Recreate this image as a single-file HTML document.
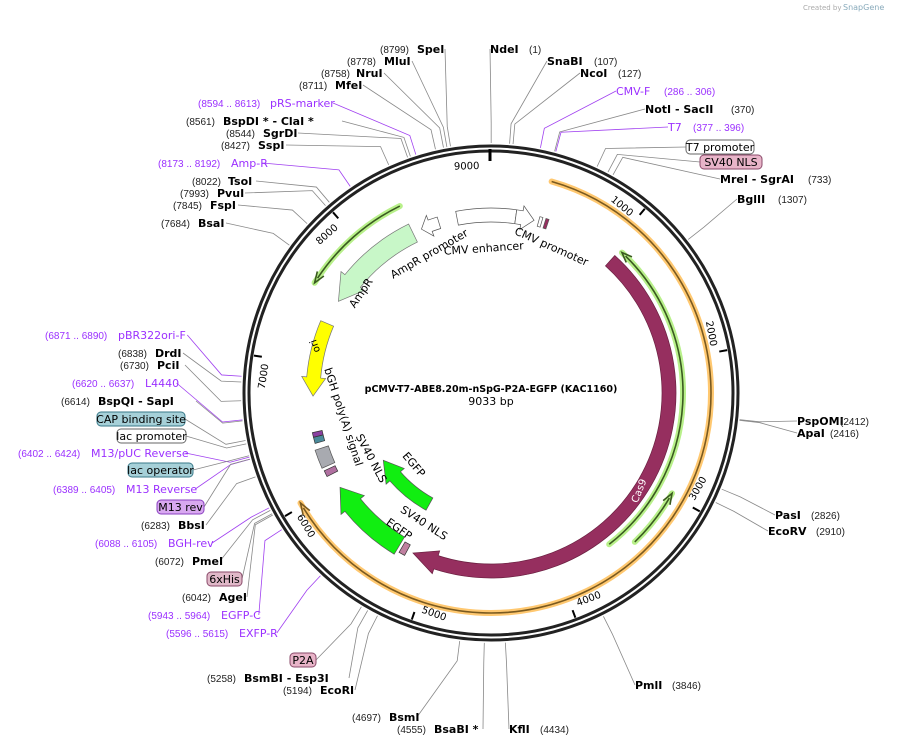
<!DOCTYPE html>
<html><head><meta charset="utf-8"><style>
body{margin:0;background:#fff;}
svg{display:block;font-family:"DejaVu Sans","Liberation Sans",sans-serif;}
.n{font-size:10px;fill:#222;font-family:"Liberation Sans",sans-serif}
.b{font-size:11px;font-weight:bold;fill:#000}
.p{font-size:10px;fill:#9b30ff;font-family:"Liberation Sans",sans-serif}
.pb{font-size:11px;fill:#9b30ff}
</style></head><body>
<svg id="s" width="899" height="747" viewBox="0 0 899 747" xmlns="http://www.w3.org/2000/svg">
<text x="803" y="10" style="font-size:7px;fill:#aaa">Created by</text><text x="843" y="10" style="font-size:8px;fill:#8ab">SnapGene</text>
<g id="g"></g>
<text x="491" y="392" text-anchor="middle" style="font-size:9.5px;font-weight:bold">pCMV-T7-ABE8.20m-nSpG-P2A-EGFP (KAC1160)</text>
<text x="491" y="405" text-anchor="middle" style="font-size:11px">9033 bp</text>
</svg>
<script>
var CX=491,CY=393,N=9033,NS="http://www.w3.org/2000/svg",G=document.getElementById('g');
function P(a,r){var t=a*Math.PI/180;return[CX+r*Math.sin(t),CY-r*Math.cos(t)];}
function A(p){return p/N*360;}
function el(n,at,txt){var e=document.createElementNS(NS,n);for(var k in at)e.setAttribute(k,at[k]);if(txt!=null)e.textContent=txt;G.appendChild(e);return e;}
function arc(a1,a2,r){var s=P(a1,r),e=P(a2,r),l=Math.abs(a2-a1)>180?1:0,sw=a2>a1?1:0;return 'M'+s[0]+' '+s[1]+' A'+r+' '+r+' 0 '+l+' '+sw+' '+e[0]+' '+e[1];}
function barrow(a1,a2,r,w,hd,fill,stroke){var d=a2>a1?1:-1,ab=a2-d*hd,ro=r+w/2,ri=r-w/2,hw=w/2+5;
 var p1=P(a1,ro),p2=P(ab,ro),p3=P(ab,r+hw),p4=P(a2,r),p5=P(ab,r-hw),p6=P(ab,ri),p7=P(a1,ri);
 if(hd<0.1){p3=p2;p4=p2;p5=p6;}
 var l=Math.abs(ab-a1)>180?1:0,sw=d>0?1:0;
 var s='M'+p1+' A'+ro+' '+ro+' 0 '+l+' '+sw+' '+p2+' L'+p3+' L'+p4+' L'+p5+' L'+p6+' A'+ri+' '+ri+' 0 '+l+' '+(1-sw)+' '+p7+'Z';
 el('path',{d:s,fill:fill,stroke:stroke||'#555','stroke-width':0.7});}
function thin(a1,a2,r,col,glow){var d=a2>a1?1:-1;el('path',{d:arc(a1,a2,r),fill:'none',stroke:glow,'stroke-width':6,'stroke-linecap':'round'});
 el('path',{d:arc(a1,a2-d*1.5,r),fill:'none',stroke:col,'stroke-width':1.6});
 var t=P(a2,r),b1=P(a2-d*3,r+4),b2=P(a2-d*3,r-4);el('path',{d:'M'+b1+' L'+t+' L'+b2,fill:'none',stroke:col,'stroke-width':1.6});}
el('circle',{cx:CX,cy:CY,r:247,fill:'none',stroke:'#222','stroke-width':3});
el('circle',{cx:CX,cy:CY,r:242,fill:'none',stroke:'#222','stroke-width':3});
for(var k=1;k<=9;k++){var a=A(k*1000);
 if(k<9){var p=P(a,240),q=P(a,232);el('line',{x1:p[0],y1:p[1],x2:q[0],y2:q[1],stroke:'#000','stroke-width':2});}
 var t=P(a-4.8,228);var rot=a; if(a>90&&a<270)rot=a-180; if(a>=270)rot=a-360;
 el('text',{x:t[0],y:t[1],'text-anchor':'middle','dominant-baseline':'middle',transform:'rotate('+rot+' '+t[0]+' '+t[1]+')',style:'font-size:10px'},String(k*1000));}
el('line',{x1:490,y1:149,x2:490,y2:161,stroke:'#000','stroke-width':3});
thin(16,240,220,'#7a5a20','#ffc870');
thin(142,43,192,'#3a5a20','#b8f08a');
thin(136,119,207,'#3a5a20','#b8f08a');
thin(334,302,208,'#3a5a20','#b8f08a');
barrow(42,206,178,14,8,'#962f5f','#6a2040');
barrow(334,301,178,20,8,'#c8f7c8','#777');
barrow(343,337,178,12,3,'#fff','#555');
barrow(-11,8,178,14,0.01,'#fff','#555');
barrow(8,14,178,14,4,'#fff','#555');
barrow(15.5,16.5,178,10,0.01,'#fff','#555');
barrow(17.5,18.5,178,10,0.01,'#962f5f','#555');
barrow(293,269,178,14,6,'#ffff00','#777');
barrow(246,252,178,14,0.01,'#a8aab0','#555');
barrow(254,256,178,10,0.01,'#4a8a9a','#333');
barrow(256,257.5,178,10,0.01,'#8a40a0','#333');
barrow(243,245,178,12,0.01,'#b070a0','#333');
barrow(211,238,178,20,7,'#11ee11','#555');
barrow(208,210,178,12,0.01,'#c080a0','#333');
barrow(209,238,127,14,9,'#11ee11','#555');
function tl(x,y,r,s,st){el('text',{x:x,y:y,'text-anchor':'middle',transform:'rotate('+r+' '+x+' '+y+')',style:'font-size:11px;'+(st||'')},s);}
tl(550,250,24,'CMV promoter');tl(484,252,-4,'CMV enhancer');tl(431,257,-30,'AmpR promoter');tl(364,295,-56,'AmpR');
tl(318,345,-110,'ori','font-size:10px');tl(340,418,72,'bGH poly(A) signal');tl(368,460,62,'SV40 NLS');
tl(411,467,50,'EGFP');tl(422,526,33,'SV40 NLS');tl(397,532,35,'EGFP');tl(642,492,-68,'Cas9','fill:#fff;font-size:10px');
var L=[
['n',380,53,'(8799)'],['b',417,53,'SpeI',8799],['b',490,53,'NdeI',1],['n',529,53,'(1)'],
['n',347,65,'(8778)'],['b',384,65,'MluI',8778],['b',547,65,'SnaBI',107],['n',594,65,'(107)'],
['n',321,77,'(8758)'],['b',356,77,'NruI',8758],['b',580,77,'NcoI',127],['n',618,77,'(127)'],
['n',299,89,'(8711)'],['b',335,89,'MfeI',8711],['pb',616,95,'CMV-F',286],['p',664,95,'(286 .. 306)'],
['p',198,107,'(8594 .. 8613)'],['pb',270,107,'pRS-marker',8594],['b',645,113,'NotI  - SacII',370],['n',731,113,'(370)'],
['n',186,125,'(8561)'],['b',223,125,'BspDI *  - ClaI *',8561],['pb',668,131,'T7',377],['p',693,131,'(377 .. 396)'],
['n',226,137,'(8544)'],['b',263,137,'SgrDI',8544],['n',221,149,'(8427)'],['b',258,149,'SspI',8427],
['p',158,167,'(8173 .. 8192)'],['pb',231,167,'Amp-R',8173],['b',720,183,'MreI  - SgrAI',733],['n',808,183,'(733)'],
['n',192,185,'(8022)'],['b',228,185,'TsoI',8022],['n',180,197,'(7993)'],['b',217,197,'PvuI',7993],
['b',737,203,'BglII',1307],['n',778,203,'(1307)'],['n',173,209,'(7845)'],['b',210,209,'FspI',7845],
['n',161,227,'(7684)'],['b',198,227,'BsaI',7684],
['p',45,339,'(6871 .. 6890)'],['pb',118,339,'pBR322ori-F',6871],['n',118,357,'(6838)'],['b',155,357,'DrdI',6838],
['n',120,369,'(6730)'],['b',157,369,'PciI',6730],['p',72,387,'(6620 .. 6637)'],['pb',145,387,'L4440',6620],
['n',61,405,'(6614)'],['b',98,405,'BspQI   - SapI',6614],['p',18,457,'(6402 .. 6424)'],['pb',91,457,'M13/pUC Reverse',6402],
['p',53,493,'(6389 .. 6405)'],['pb',126,493,'M13 Reverse',6389],['n',141,529,'(6283)'],['b',178,529,'BbsI',6283],
['p',95,547,'(6088 .. 6105)'],['pb',168,547,'BGH-rev',6088],['n',155,565,'(6072)'],['b',192,565,'PmeI',6072],
['n',182,601,'(6042)'],['b',219,601,'AgeI',6042],['p',148,619,'(5943 .. 5964)'],['pb',221,619,'EGFP-C',5943],
['p',166,637,'(5596 .. 5615)'],['pb',239,637,'EXFP-R',5596],
['n',207,682,'(5258)'],['b',244,682,'BsmBI   - Esp3I',5258],['n',283,694,'(5194)'],['b',320,694,'EcoRI',5194],
['n',352,721,'(4697)'],['b',389,721,'BsmI',4697],['n',397,733,'(4555)'],['b',434,733,'BsaBI *',4555],
['b',509,733,'KflI',4434],['n',540,733,'(4434)'],['b',635,689,'PmlI',3846],['n',672,689,'(3846)'],
['b',797,425,'PspOMI',2412],['n',840,425,'(2412)'],['b',797,437,'ApaI',2416],['n',830,437,'(2416)'],
['b',775,519,'PasI',2826],['n',811,519,'(2826)'],['b',768,535,'EcoRV',2910],['n',816,535,'(2910)']];
var boxes=[[686,140,68,'T7 promoter','#fff','#666',630],[700,155,62,'SV40 NLS','#e8b4c8','#8a4a6a',700],
[97,412,88,'CAP binding site','#a6d0d8','#3a7a8a',6500],[117,429,69,'lac promoter','#fff','#666',6480],
[128,463,65,'lac operator','#a6d0d8','#3a7a8a',6410],[157,500,47,'M13 rev','#d8a8f0','#8a40c0',6390],
[207,572,35,'6xHis','#e0b8c8','#8a4a6a',6050],[290,653,26,'P2A','#e8b4c8','#8a4a6a',5300]];
function lead(x,y,pos,col){var a=A(pos),p=P(a,250),q=P(a,270);el('polyline',{points:x+','+y+' '+q+' '+p,fill:'none',stroke:col,'stroke-width':0.8});}
L.forEach(function(l){if(l[4]!=null){var w=l[3].length*(l[0]=='b'?7:6.3),x=l[1],y=l[2]-4;var a=A(l[4]);var ex=Math.sin(a*Math.PI/180)>0?x:x+w;
 lead(ex,y,l[4],l[0]=='b'?'#888':'#a040f0');}});
boxes.forEach(function(b){var cx=b[0]<490?b[0]+b[2]:b[0];lead(cx,b[1]+7,b[6],'#888');});
L.forEach(function(l){el('text',{x:l[1],y:l[2],'class':l[0]},l[3]);});
boxes.forEach(function(b){el('rect',{x:b[0],y:b[1],width:b[2],height:14,rx:4,fill:b[4],stroke:b[5],'stroke-width':1});
 el('text',{x:b[0]+b[2]/2,y:b[1]+11,'text-anchor':'middle',style:'font-size:11px'},b[3]);});
</script>
</body></html>
